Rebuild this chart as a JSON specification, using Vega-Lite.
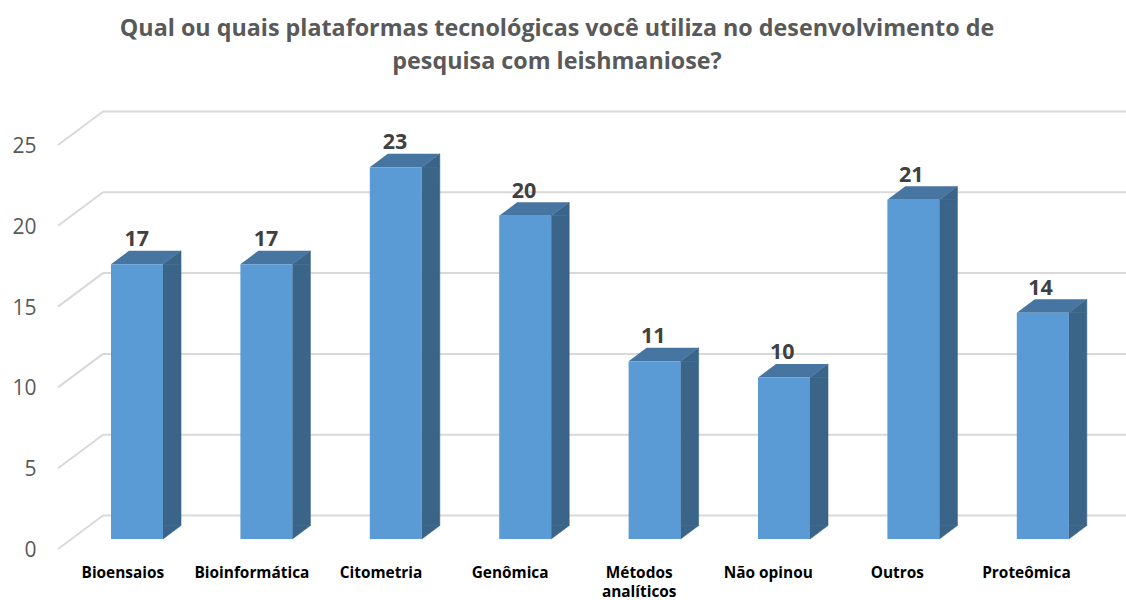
{"$schema":"https://vega.github.io/schema/vega-lite/v6.json","width":1068,"height":449,"padding":{"left":58,"top":100,"right":0,"bottom":51},"autosize":{"type":"none"},"background":"white","config":{"view":{"stroke":null},"font":"Open Sans"},"title":{"text":["Qual ou quais plataformas tecnológicas você utiliza no desenvolvimento de","pesquisa com leishmaniose?"],"fontSize":23.3,"fontWeight":"bold","color":"#595959","font":"Open Sans","anchor":"middle","dx":-35,"offset":26,"lineHeight":33},"datasets":{"bars":[{"plataforma":"Bioensaios","respostas":17},{"plataforma":"Bioinformática","respostas":17},{"plataforma":"Citometria","respostas":23},{"plataforma":"Genômica","respostas":20},{"plataforma":"Métodos analíticos","respostas":11},{"plataforma":"Não opinou","respostas":10},{"plataforma":"Outros","respostas":21},{"plataforma":"Proteômica","respostas":14}],"levels":[{"nivel":0},{"nivel":5},{"nivel":10},{"nivel":15},{"nivel":20},{"nivel":25}]},"resolve":{"scale":{"x":"independent","y":"independent"},"axis":{"x":"independent","y":"independent"}},"layer":[{"data":{"name":"levels"},"mark":{"type":"rule","stroke":"#D9D9D9","strokeWidth":2},"encoding":{"x":{"datum":0,"type":"quantitative","scale":{"domain":[0,1],"range":[45,1068]},"axis":null},"x2":{"datum":1},"y":{"field":"nivel","type":"quantitative","scale":{"domain":[0,25],"range":[415.5,11.5]},"axis":null}}},{"data":{"name":"levels"},"mark":{"type":"point","shape":"M0,0L45,-33.5","filled":false,"stroke":"#D9D9D9","strokeWidth":2,"size":4,"opacity":1},"encoding":{"x":{"datum":0,"type":"quantitative","scale":{"domain":[0,1],"range":[0,1023]},"axis":null},"y":{"field":"nivel","type":"quantitative","scale":{"domain":[0,25],"range":[449,45]},"axis":{"values":[0,5,10,15,20,25],"domain":false,"ticks":false,"grid":false,"title":null,"labelPadding":22,"labelFontSize":21,"labelColor":"#595959","labelFont":"Open Sans","labelOffset":1.5}}}},{"data":{"name":"bars"},"mark":{"type":"bar","width":18,"xOffset":35,"color":"#3A6488","stroke":"#3A6488","strokeWidth":0.6},"encoding":{"x":{"field":"plataforma","type":"nominal","sort":null,"scale":{"type":"band","paddingInner":0,"paddingOuter":0,"range":[14.3,1049.5]},"axis":null},"y":{"field":"respostas","type":"quantitative","stack":null,"scale":{"domain":[0,25],"range":[439,35]},"axis":null},"y2":{"datum":0.835}}},{"data":{"name":"bars"},"mark":{"type":"point","shape":"M26,0L44,-13.5L26,-13.5Z","filled":true,"color":"#3A6488","stroke":"#3A6488","strokeWidth":0.6,"size":4,"opacity":1},"encoding":{"x":{"field":"plataforma","type":"nominal","sort":null,"scale":{"type":"band","paddingInner":0,"paddingOuter":0,"range":[14.3,1049.5]},"axis":null},"y":{"datum":0,"type":"quantitative","scale":{"domain":[0,25],"range":[439,35]},"axis":null}}},{"data":{"name":"bars"},"mark":{"type":"point","shape":"M26,0L44,-13.5L44,0Z","filled":true,"color":"#3A6488","stroke":"#3A6488","strokeWidth":0.6,"size":4,"opacity":1},"encoding":{"x":{"field":"plataforma","type":"nominal","sort":null,"scale":{"type":"band","paddingInner":0,"paddingOuter":0,"range":[14.3,1049.5]},"axis":null},"y":{"field":"respostas","type":"quantitative","scale":{"domain":[0,25],"range":[439,35]},"axis":null}}},{"data":{"name":"bars"},"mark":{"type":"point","shape":"M-26,0L26,0L44,-13.5L-8,-13.5Z","filled":true,"color":"#4675A1","size":4,"opacity":1},"encoding":{"x":{"field":"plataforma","type":"nominal","sort":null,"scale":{"type":"band","paddingInner":0,"paddingOuter":0,"range":[14.3,1049.5]},"axis":null},"y":{"field":"respostas","type":"quantitative","scale":{"domain":[0,25],"range":[439,35]},"axis":null}}},{"data":{"name":"bars"},"mark":{"type":"bar","width":52,"color":"#5B9BD5"},"encoding":{"x":{"field":"plataforma","type":"nominal","sort":null,"scale":{"type":"band","paddingInner":0,"paddingOuter":0,"range":[14.3,1049.5]},"axis":null},"y":{"field":"respostas","type":"quantitative","stack":null,"scale":{"domain":[0,25],"range":[439,35]},"axis":null}}},{"data":{"name":"bars"},"mark":{"type":"text","font":"Open Sans","fontWeight":"bold","fontSize":21.5,"color":"#404040","yOffset":-24},"encoding":{"x":{"field":"plataforma","type":"nominal","sort":null,"scale":{"type":"band","paddingInner":0,"paddingOuter":0,"range":[14.3,1047]},"axis":{"title":null,"domain":false,"ticks":false,"grid":false,"labelAngle":0,"labelPadding":16,"labelOffset":-14,"labelFontSize":15.4,"labelFontWeight":"bold","labelColor":"#000000","labelFont":"Open Sans","labelLimit":300,"labelOverlap":false,"labelBound":false,"labelFlush":false,"labelLineHeight":19,"labelExpr":"datum.label == 'Métodos analíticos' ? ['Métodos','analíticos'] : datum.label"}},"y":{"field":"respostas","type":"quantitative","scale":{"domain":[0,25],"range":[439,35]},"axis":null},"text":{"field":"respostas","type":"quantitative"}}}]}
